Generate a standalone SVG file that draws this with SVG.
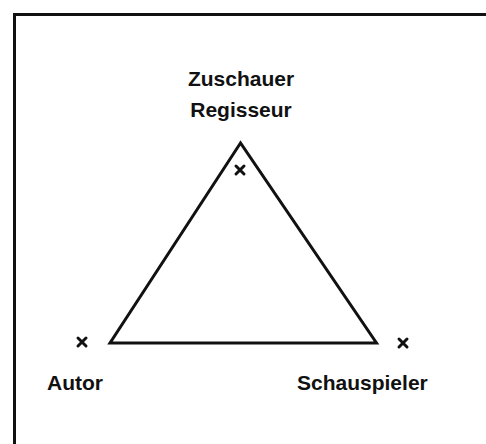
<svg xmlns="http://www.w3.org/2000/svg" width="486" height="444" viewBox="0 0 486 444">
<style>
.lbl{font-family:"Liberation Sans",Arial,sans-serif;font-weight:bold;font-size:21px;fill:#111}
.cross{stroke:#111;stroke-width:3;stroke-linecap:round}
.frame{fill:none;stroke:#111;stroke-width:3}
</style>
<rect width="486" height="444" fill="#fff"/>
<path class="frame" d="M14.5 444 V14.5 H486"/>
<g id="connectors">
<path d="M240.5 143 L110 343 L376.5 343 Z" fill="none" stroke="#111" stroke-width="3" stroke-linejoin="miter"/>
</g>
<g id="node-top">
<text class="lbl" x="241" y="86" text-anchor="middle">Zuschauer</text>
<text class="lbl" x="241" y="117" text-anchor="middle">Regisseur</text>
<path class="cross" d="M236 166 L244 174 M244 166 L236 174"/>
</g>
<g id="node-autor">
<path class="cross" d="M78 338 L86 346 M86 338 L78 346"/>
<text class="lbl" x="47" y="390">Autor</text>
</g>
<g id="node-schauspieler">
<path class="cross" d="M399 339 L407 347 M407 339 L399 347"/>
<text class="lbl" x="297" y="390">Schauspieler</text>
</g>
</svg>
